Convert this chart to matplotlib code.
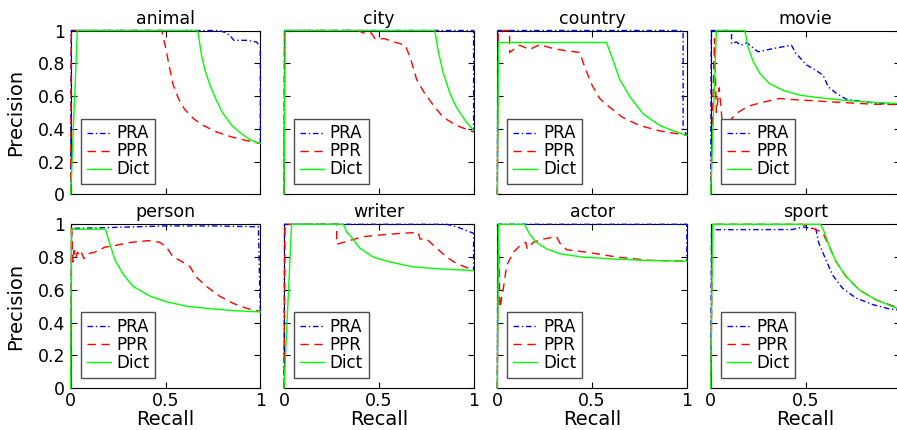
import matplotlib
matplotlib.use("Agg")
import matplotlib.pyplot as plt

# (recall, precision) points
animal_pra = [(0, 0), (0.003, 1), (0.78, 1), (0.81, 0.99), (0.84, 0.97), (0.86, 0.94), (0.93, 0.94),
              (0.98, 0.93), (1.0, 0.90), (1.0, 0.31)]
animal_ppr = [(0, 0), (0.003, 1), (0.48, 1), (0.50, 0.90), (0.52, 0.78), (0.54, 0.67), (0.57, 0.58),
              (0.60, 0.52), (0.65, 0.46), (0.70, 0.42), (0.77, 0.38), (0.85, 0.35), (0.92, 0.33), (1.0, 0.31)]
animal_dict = [(0, 0), (0.035, 1), (0.67, 1), (0.69, 0.85), (0.71, 0.75), (0.74, 0.65), (0.77, 0.57),
               (0.80, 0.50), (0.85, 0.42), (0.90, 0.37), (0.95, 0.33), (1.0, 0.31)]

city_pra = [(0, 0), (0.003, 1), (1.0, 1), (1.0, 0.38)]
city_ppr = [(0, 0), (0.003, 1), (0.39, 1), (0.43, 0.98), (0.46, 0.985), (0.48, 0.95), (0.53, 0.95),
            (0.58, 0.93), (0.64, 0.91), (0.67, 0.82), (0.70, 0.70), (0.74, 0.62), (0.79, 0.54),
            (0.84, 0.47), (0.91, 0.42), (1.0, 0.38)]
city_dict = [(0, 0), (0.006, 1), (0.795, 1), (0.816, 0.86), (0.84, 0.74), (0.877, 0.61), (0.91, 0.53),
             (0.956, 0.45), (1.0, 0.39)]

country_pra = [(0, 0), (0.003, 1), (0.96, 1), (0.98, 0.99), (0.98, 0.40), (1.0, 0.36)]
country_ppr = [(0, 0), (0.005, 1), (0.065, 1), (0.065, 0.866), (0.118, 0.91), (0.17, 0.884),
               (0.224, 0.914), (0.294, 0.89), (0.364, 0.876), (0.435, 0.866), (0.46, 0.78), (0.50, 0.666),
               (0.54, 0.585), (0.59, 0.534), (0.66, 0.47), (0.75, 0.42), (0.857, 0.387), (1.0, 0.36)]
country_dict = [(0, 0), (0.007, 0.927), (0.576, 0.927), (0.61, 0.82), (0.646, 0.70), (0.70, 0.595),
                (0.77, 0.49), (0.857, 0.42), (0.945, 0.38), (1.0, 0.36)]

movie_pra = [(0, 0), (0.003, 1), (0.11, 1), (0.11, 0.92), (0.135, 0.93), (0.16, 0.91), (0.19, 0.925),
             (0.25, 0.87), (0.33, 0.89), (0.426, 0.91), (0.45, 0.86), (0.505, 0.79), (0.55, 0.76),
             (0.593, 0.727), (0.62, 0.656), (0.664, 0.615), (0.716, 0.58), (0.787, 0.568), (0.89, 0.554),
             (1.0, 0.548)]
movie_ppr = [(0, 0), (0.01, 0.5), (0.02, 0.95), (0.03, 0.50), (0.045, 0.65), (0.06, 0.45), (0.08, 0.39),
             (0.10, 0.45), (0.144, 0.50), (0.197, 0.537), (0.26, 0.558), (0.364, 0.585), (0.435, 0.578),
             (0.558, 0.57), (0.70, 0.56), (0.857, 0.55), (1.0, 0.548)]
movie_dict = [(0, 0), (0.03, 1), (0.18, 1), (0.197, 0.90), (0.224, 0.81), (0.26, 0.737), (0.31, 0.676),
              (0.38, 0.635), (0.47, 0.605), (0.576, 0.589), (0.70, 0.574), (0.82, 0.564), (1.0, 0.553)]

person_pra = [(0, 0), (0.005, 0.975), (0.2, 0.98), (0.5, 0.99), (0.75, 0.99), (0.99, 0.985), (1.0, 0.466)]
person_ppr = [(0, 0), (0.004, 1.0), (0.012, 0.77), (0.018, 0.84), (0.026, 0.79), (0.035, 0.83),
              (0.047, 0.81), (0.056, 0.83), (0.07, 0.79), (0.09, 0.82), (0.127, 0.83), (0.18, 0.86),
              (0.23, 0.87), (0.32, 0.89), (0.41, 0.90), (0.47, 0.89), (0.506, 0.86), (0.54, 0.80),
              (0.576, 0.78), (0.63, 0.74), (0.66, 0.68), (0.717, 0.62), (0.787, 0.56), (0.858, 0.517),
              (0.928, 0.487), (1.0, 0.467)]
person_dict = [(0, 0), (0.004, 0.97), (0.183, 0.97), (0.207, 0.88), (0.234, 0.78), (0.28, 0.69),
               (0.33, 0.62), (0.42, 0.56), (0.506, 0.527), (0.61, 0.50), (0.75, 0.483), (0.858, 0.473),
               (1.0, 0.465)]

writer_pra = [(0, 0), (0.003, 1), (0.858, 1), (0.91, 0.985), (1.0, 0.945), (1.0, 0.72)]
writer_ppr = [(0, 0), (0.005, 1), (0.278, 1), (0.278, 0.878), (0.418, 0.925), (0.559, 0.94),
              (0.708, 0.951), (0.717, 0.91), (0.752, 0.91), (0.805, 0.854), (0.858, 0.80), (0.91, 0.76),
              (1.0, 0.72)]
writer_dict = [(0, 0), (0.04, 1), (0.313, 1), (0.33, 0.955), (0.357, 0.92), (0.40, 0.854), (0.47, 0.80),
               (0.56, 0.77), (0.68, 0.74), (0.82, 0.728), (1.0, 0.717)]

actor_pra = [(0, 0), (0.003, 1), (1.0, 1), (1.0, 0.775)]
actor_ppr = [(0, 0), (0.005, 1), (0.014, 0.49), (0.032, 0.61), (0.05, 0.75), (0.085, 0.83), (0.12, 0.87),
             (0.15, 0.89), (0.158, 0.85), (0.19, 0.89), (0.243, 0.91), (0.313, 0.925), (0.33, 0.885),
             (0.366, 0.845), (0.47, 0.83), (0.63, 0.80), (0.80, 0.78), (1.0, 0.775)]
actor_dict = [(0, 0), (0.007, 1), (0.144, 1), (0.17, 0.94), (0.206, 0.89), (0.26, 0.85), (0.33, 0.82),
              (0.45, 0.80), (0.63, 0.787), (0.80, 0.779), (1.0, 0.775)]

sport_pra = [(0, 0), (0.004, 0.967), (0.43, 0.968), (0.49, 0.984), (0.555, 0.97), (0.57, 0.886),
             (0.607, 0.785), (0.643, 0.69), (0.695, 0.61), (0.766, 0.55), (0.854, 0.51), (0.94, 0.484),
             (1.0, 0.475)]
sport_ppr = [(0, 0), (0.01, 1), (0.484, 1), (0.555, 0.967), (0.59, 0.95), (0.625, 0.866), (0.66, 0.774),
             (0.713, 0.683), (0.783, 0.60), (0.87, 0.54), (1.0, 0.485)]
sport_dict = [(0, 0), (0.01, 1), (0.58, 1), (0.6, 0.95), (0.625, 0.866), (0.66, 0.774), (0.713, 0.683),
              (0.783, 0.60), (0.87, 0.54), (0.98, 0.488), (1.0, 0.485)]

titles = ["animal", "city", "country", "movie", "person", "writer", "actor", "sport"]
pra_curves = [animal_pra, city_pra, country_pra, movie_pra, person_pra, writer_pra, actor_pra, sport_pra]
ppr_curves = [animal_ppr, city_ppr, country_ppr, movie_ppr, person_ppr, writer_ppr, actor_ppr, sport_ppr]
dict_curves = [animal_dict, city_dict, country_dict, movie_dict, person_dict, writer_dict, actor_dict,
               sport_dict]

x_ticks = [0, 0.5, 1]
x_ticklabels = ["0", "0.5", "1"]
y_ticks = [0, 0.2, 0.4, 0.6, 0.8, 1]
y_ticklabels = ["0", "0.2", "0.4", "0.6", "0.8", "1"]

W, H = 897, 430
fig = plt.figure(figsize=(W / 100, H / 100), dpi=100)

# axes boxes in pixels
ax_w, ax_h = 189.6, 163.8
col_left = [70.7, 284.0, 497.3, 710.7]
row_top = [30.5, 224.3]


def xy(points):
    return [p[0] for p in points], [p[1] for p in points]


for i, title in enumerate(titles):
    r, c = divmod(i, 4)
    ax = fig.add_axes([col_left[c] / W, 1 - (row_top[r] + ax_h) / H, ax_w / W, ax_h / H])
    x, y = xy(pra_curves[i])
    ax.plot(x, y, color="#0000ff", lw=1, dashes=(4, 2, 1, 2), label="PRA", clip_on=False, zorder=3)
    x, y = xy(ppr_curves[i])
    ax.plot(x, y, color="#ff0000", lw=1, dashes=(6, 4), label="PPR", clip_on=False, zorder=3)
    x, y = xy(dict_curves[i])
    ax.plot(x, y, color="#00ff00", lw=1, label="Dict", clip_on=False, zorder=3)

    ax.set_xlim(0, 1)
    ax.set_ylim(0, 1)
    ax.set_xticks(x_ticks)
    ax.set_yticks(y_ticks)
    ax.tick_params(direction="in", top=True, right=True, length=4, labelsize=12.5)
    ax.tick_params(axis="x", pad=3)
    ax.tick_params(axis="y", pad=4)
    if r == 1:
        ax.set_xticklabels(x_ticklabels)
        ax.set_xlabel("Recall", fontsize=14, labelpad=0)
    else:
        ax.set_xticklabels([])
    if c == 0:
        ax.set_yticklabels(y_ticklabels)
        ax.set_ylabel("Precision", fontsize=14, labelpad=9)
    else:
        ax.set_yticklabels([])
    ax.set_title(title, fontsize=12.5, pad=5)
    leg = ax.legend(loc="lower left", fontsize=12, labelspacing=0, handlelength=1.45,
                    handletextpad=0.35, borderpad=0.35, borderaxespad=0.6, fancybox=False,
                    framealpha=1)
    leg.set_zorder(5)
    leg.get_frame().set_edgecolor("0.3")
    leg.get_frame().set_linewidth(1)

fig.savefig("out.png", dpi=100)
